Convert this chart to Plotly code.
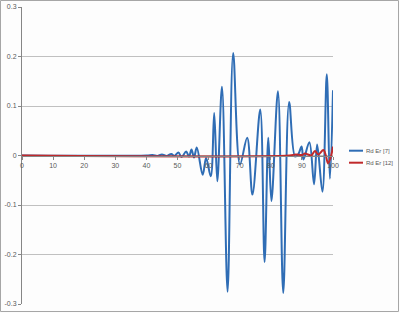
import plotly.graph_objects as go

# Series "Rd Er [7]" (blue)
x7 = [0, 40, 42, 43.5, 45, 46.5, 48, 49, 50.3, 51.3, 52.8, 53.7, 54.5, 55.3, 56.2,
      58.1, 59.2, 60.7, 61.8, 62.8, 64.3, 66.1, 67.9, 70.1, 72.4, 74.1, 76.6, 78.0,
      79.2, 80.2, 82.3, 84.0, 85.9, 87.8, 88.8, 89.9, 90.5, 92.4, 93.9, 94.9, 96.6,
      98.0, 99.0, 100]
y7 = [0, 0, 0.001, -0.001, 0.002, -0.001, 0.003, -0.001, 0.006, -0.003, 0.008, -0.002,
      0.012, -0.004, 0.016, -0.039, -0.005, -0.042, 0.086, -0.052, 0.139, -0.275, 0.207,
      -0.018, 0.036, -0.079, 0.093, -0.215, 0.036, -0.092, 0.130, -0.278, 0.108, -0.002,
      0.002, 0.018, -0.008, 0.027, -0.058, 0.022, -0.073, 0.164, -0.047, 0.132]

# Series "Rd Er [12]" (red)
x12 = [0, 86, 88, 90, 91, 92, 93, 94.2, 95.3, 96.9, 97.7, 98.4, 99.2, 100]
y12 = [0, 0, 0.002, 0.001, 0.004, 0.002, 0.0, 0.009, 0.002, 0.011, 0.0, -0.016, -0.005, 0.018]

series_names = ["Rd Er [7]", "Rd Er [12]"]
series_colors = ["#2f6db5", "#c0292b"]

x_ticks = [0, 10, 20, 30, 40, 50, 60, 70, 80, 90, 100]
y_ticks = [-0.3, -0.2, -0.1, 0, 0.1, 0.2, 0.3]
y_labels = ["-0.3", "-0.2", "-0.1", "0", "0.1", "0.2", "0.3"]

W, H = 400, 313
L, R, T, B = 22, 67, 7, 9
pw = W - L - R
ph = H - T - B


def px_x(px):
    return (px - L) / pw


def px_y(py):
    return (H - B - py) / ph


fig = go.Figure()
for xs, ys, nm, col in [(x7, y7, series_names[0], series_colors[0]),
                        (x12, y12, series_names[1], series_colors[1])]:
    fig.add_trace(go.Scatter(x=xs, y=ys, mode="lines", name=nm, showlegend=False,
                             line=dict(color=col, width=2, shape="spline", smoothing=1)))

# outer chart border
fig.add_shape(type="rect", xref="paper", yref="paper",
              x0=px_x(0.5), x1=px_x(W - 1.5), y0=px_y(H - 1.5), y1=px_y(0.5),
              line=dict(color="#a6a6a6", width=1), fillcolor="rgba(0,0,0,0)", layer="below")

# legend drawn manually (short line samples like the reference)
for i, (nm, col) in enumerate(zip(series_names, series_colors)):
    ly = 150.7 + 12 * i
    fig.add_shape(type="line", xref="paper", yref="paper",
                  x0=px_x(349), x1=px_x(363), y0=px_y(ly), y1=px_y(ly),
                  line=dict(color=col, width=2))
    fig.add_annotation(xref="paper", yref="paper", x=px_x(364), y=px_y(ly),
                       xanchor="left", yanchor="middle", text=nm, showarrow=False,
                       font=dict(size=6, color="#595959",
                                 family="Liberation Sans Narrow, Liberation Sans, Arial"))

fig.update_layout(
    width=W, height=H,
    margin=dict(l=L, r=R, t=T, b=B, autoexpand=False),
    paper_bgcolor="#fdfdfd", plot_bgcolor="#fdfdfd",
    font=dict(family="Liberation Sans, Arial, sans-serif", size=8, color="#595959"),
    showlegend=False,
    xaxis=dict(range=[0, 100], tickvals=x_ticks, showgrid=False, zeroline=False,
               showline=True, linecolor="#868686", linewidth=1,
               anchor="free", position=0.5, ticks="outside", ticklen=3,
               tickcolor="#868686", tickfont=dict(size=7)),
    yaxis=dict(range=[-0.3, 0.3], tickvals=y_ticks, ticktext=y_labels,
               showgrid=True, gridcolor="#c0c0c0", gridwidth=1, zeroline=False,
               showline=True, linecolor="#868686", linewidth=1,
               ticks="outside", ticklen=3, tickcolor="#868686",
               tickfont=dict(size=7)),
)

fig.write_html("out.html")
